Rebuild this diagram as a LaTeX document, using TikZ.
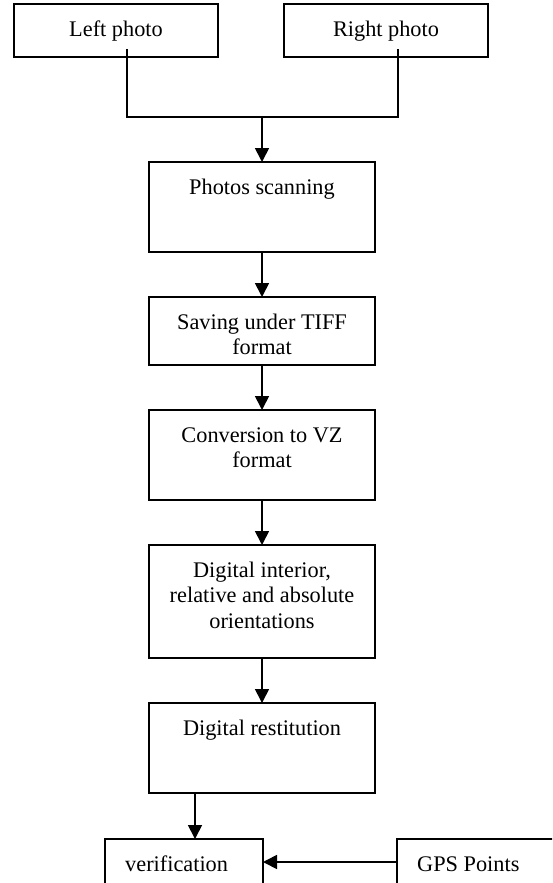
\documentclass[tikz,border=0pt]{standalone}
\usepackage{fontspec}
\setmainfont{Liberation Serif}
\usetikzlibrary{arrows.meta}

\begin{document}
\begin{tikzpicture}[x=1pt, y=-1pt,
  box/.style={draw, line width=1.6pt, rectangle, outer sep=0pt, inner sep=0pt},
  lbl/.style={anchor=north, inner sep=0pt, align=center,
              font=\fontsize{22.3}{25.5}\selectfont},
  lbll/.style={lbl, anchor=north west, align=left},
  link/.style={line width=1.7pt},
  arr/.style={link, -{Triangle[width=14pt,length=14pt]}}]

  \useasboundingbox (0,0) rectangle (552,883);
  \clip (0,0) rectangle (552,883);

  % boxes
  \node[box, minimum width=204, minimum height=53] (lp)     at (116,30.5) {};
  \node[box, minimum width=204, minimum height=53] (rp)     at (386,30.5) {};
  \node[box, minimum width=226, minimum height=90] (scan)   at (262,207) {};
  \node[box, minimum width=226, minimum height=68] (save)   at (262,331) {};
  \node[box, minimum width=226, minimum height=90] (conv)   at (262,455) {};
  \node[box, minimum width=226, minimum height=113] (orient) at (262,601.5) {};
  \node[box, minimum width=226, minimum height=90] (rest)   at (262,748) {};
  \node[box, minimum width=158, minimum height=80] (verif)  at (184,879) {};
  \node[box, minimum width=223, minimum height=80] (gps)    at (508.5,879) {};

  % labels
  \node[lbl] (tlp)     at (116,18.15)  {\strut Left photo};
  \node[lbl] (trp)     at (386,18.15)  {\strut Right photo};
  \node[lbl] (tscan)   at (262,176.15) {\strut Photos scanning};
  \node[lbl] (tsave)   at (262,311.15) {\strut Saving under TIFF\\format};
  \node[lbl] (tconv)   at (262,424.15) {\strut Conversion to VZ\\format};
  \node[lbl] (torient) at (262,559.15) {\strut Digital interior,\\relative and absolute\\orientations};
  \node[lbl] (trest)   at (262,717.15) {\strut Digital restitution};
  \node[lbll] (tverif) at (125,853.15) {\strut verification};
  \node[lbll] (tgps)   at (417,853.15) {\strut GPS Points};

  % connector points
  \coordinate (lpt)  at (127,49);
  \coordinate (rpt)  at (398,49);
  \coordinate (join) at (262,117);
  \coordinate (vin)  at (195,839);
  \coordinate (gin)  at (263,862);

  % connectors
  \draw[link] (lpt) |- (join) -| (rpt);
  \draw[arr] (join) -- (scan.north);
  \draw[arr] (scan.south) -- (save.north);
  \draw[arr] (save.south) -- (conv.north);
  \draw[arr] (conv.south) -- (orient.north);
  \draw[arr] (orient.south) -- (rest.north);
  \draw[arr] (vin |- rest.south) -- (vin);
  \draw[arr] (gin -| gps.west) -- (gin);
\end{tikzpicture}
\end{document}
